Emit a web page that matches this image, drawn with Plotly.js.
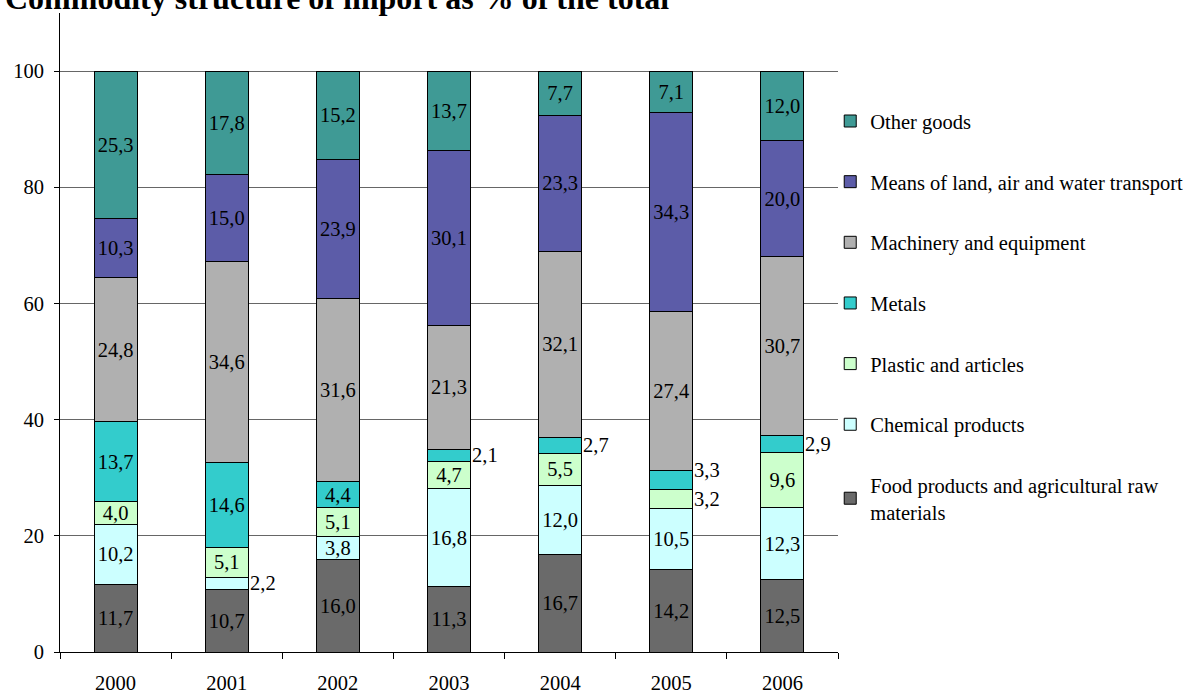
<!DOCTYPE html>
<html>
<head>
<meta charset="utf-8">
<script src="https://cdn.plot.ly/plotly-3.0.1.min.js"></script>
<style>html,body{margin:0;padding:0;background:#fff;}#chart{width:1190px;height:693px;}</style>
</head>
<body>
<div id="chart"></div>
<script>
const years = ['2000','2001','2002','2003','2004','2005','2006'];
const seriesNames = ['Food products and agricultural raw<br>materials','Chemical products','Plastic and articles','Metals','Machinery and equipment','Means of land, air and water transport','Other goods'];
const food      = [11.7, 10.7, 16.0, 11.3, 16.7, 14.2, 12.5];
const chemical  = [10.2, 2.2, 3.8, 16.8, 12.0, 10.5, 12.3];
const plastic   = [4.0, 5.1, 5.1, 4.7, 5.5, 3.2, 9.6];
const metals    = [13.7, 14.6, 4.4, 2.1, 2.7, 3.3, 2.9];
const machinery = [24.8, 34.6, 31.6, 21.3, 32.1, 27.4, 30.7];
const transport = [10.3, 15.0, 23.9, 30.1, 23.3, 34.3, 20.0];
const other     = [25.3, 17.8, 15.2, 13.7, 7.7, 7.1, 12.0];
const yTicks = [0, 20, 40, 60, 80, 100];
const titleText = 'Commodity structure of import as % of the total';

const allSeries = [food, chemical, plastic, metals, machinery, transport, other];
const colors = ['#6a6a6a', '#ccffff', '#ccffcc', '#33cccc', '#b0b0b0', '#5c5ca8', '#3f9a95'];
const fmt = v => v.toFixed(1).replace('.', ',');
const OUT_LIMIT = 3.5;
const serif = 'Liberation Serif, Times New Roman, serif';
const FS = 20.5;

const traces = allSeries.map((vals, i) => ({
  type: 'bar',
  name: seriesNames[i],
  x: years,
  y: vals,
  text: vals.map(v => v < OUT_LIMIT ? '' : fmt(v)),
  textposition: 'inside',
  insidetextanchor: 'middle',
  textangle: 0,
  constraintext: 'none',
  textfont: {family: serif, size: FS, color: '#000'},
  marker: {color: colors[i], line: {color: '#000', width: 1}},
  legendgroup: 'g' + i,
  legendrank: 100 - i,
  hoverinfo: 'skip'
}));

const annotations = [];
years.forEach((yr, j) => {
  let cum = 0;
  let lastMid = -100;
  allSeries.forEach(vals => {
    const v = vals[j];
    const mid = cum + v / 2;
    if (v < OUT_LIMIT) {
      const crowded = (mid - lastMid) < 4;
      annotations.push({
        x: j, y: mid, xref: 'x', yref: 'y',
        text: fmt(v), showarrow: false, xanchor: 'left', yanchor: 'middle',
        xshift: 21, yshift: crowded ? 10 : 0,
        font: {family: serif, size: FS, color: '#000'}
      });
      lastMid = mid;
    }
    cum += v;
  });
});
annotations.push({
  x: 0, y: 1, xref: 'paper', yref: 'paper', xanchor: 'left', yanchor: 'middle',
  xshift: -57, yshift: 15, showarrow: false,
  text: '<b>' + titleText + '</b>',
  font: {family: serif, size: 32, color: '#000'}
});

const layout = {
  width: 1190, height: 693,
  margin: {l: 60, r: 352, t: 13, b: 41, autoexpand: false},
  paper_bgcolor: '#fff', plot_bgcolor: '#fff',
  font: {family: serif, size: FS, color: '#000'},
  barmode: 'stack',
  bargap: 0.613,
  showlegend: true,
  legend: {
    x: 0.99, xanchor: 'left', y: 0.862, yanchor: 'top',
    traceorder: 'grouped', tracegroupgap: 31,
    font: {family: serif, size: FS, color: '#000'},
    bgcolor: 'rgba(0,0,0,0)', itemwidth: 30
  },
  xaxis: {
    type: 'category',
    showline: true, linecolor: '#000', linewidth: 1,
    ticks: 'outside', tickson: 'boundaries', ticklen: 6, tickcolor: '#000',
    ticklabelstandoff: 12,
    showgrid: false, zeroline: false,
    tickfont: {family: serif, size: FS}
  },
  yaxis: {
    range: [0, 110],
    tickvals: yTicks, ticktext: yTicks.map(String),
    showline: true, linecolor: '#000', linewidth: 1,
    ticks: 'outside', ticklen: 5, tickcolor: '#000',
    ticklabelstandoff: 6,
    showgrid: true, gridcolor: '#666', gridwidth: 1, zeroline: false,
    tickfont: {family: serif, size: FS}
  },
  annotations: annotations
};

Plotly.newPlot('chart', traces, layout, {displayModeBar: false, staticPlot: true});
</script>
</body>
</html>
